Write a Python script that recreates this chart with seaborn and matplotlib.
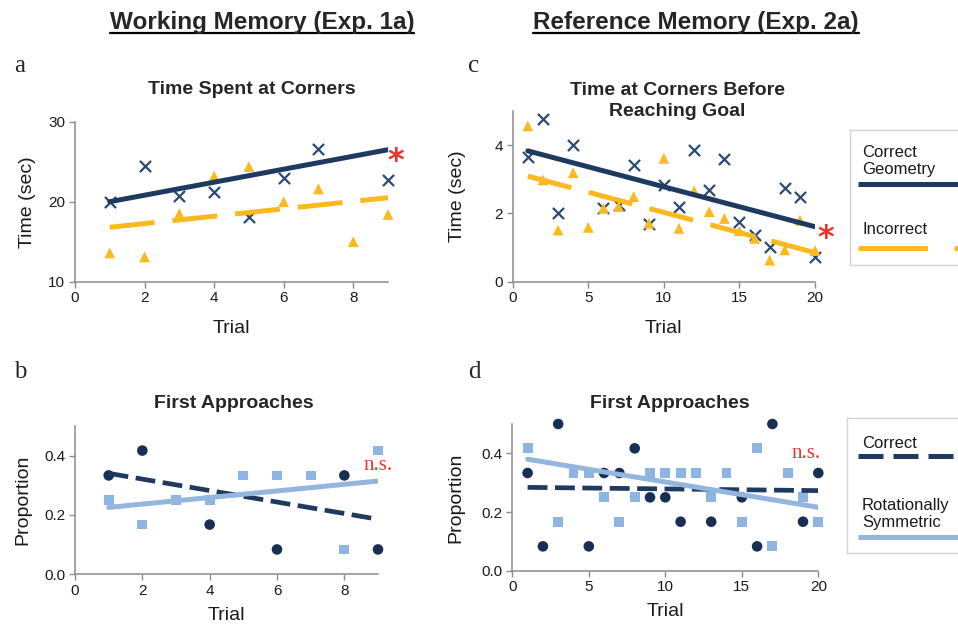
import matplotlib.pyplot as plt
import numpy as np
import seaborn as sns

# ---- data ----
# (a) working memory, time spent at corners (sec)
trials_a_correct = [1, 2, 3, 4, 5, 6, 7, 9]
time_a_correct = [20.0, 24.5, 20.7, 21.2, 18.1, 23.0, 26.6, 22.7]
trials_a_incorrect = [1, 2, 3, 4, 5, 6, 7, 8, 9]
time_a_incorrect = [13.6, 13.1, 18.5, 23.2, 24.4, 20.0, 21.6, 15.0, 18.4]
trend_a_x = [1, 9]
trend_a_correct = [20.0, 26.5]
trend_a_incorrect = [16.8, 20.5]

# (c) reference memory, time at corners before reaching goal (sec)
trials_c_correct = [1, 2, 3, 4, 6, 7, 8, 9, 10, 11, 12, 13, 14, 15, 16, 17, 18, 19, 20]
time_c_correct = [3.66, 4.75, 2.0, 4.0, 2.15, 2.24, 3.41, 1.69, 2.83, 2.2,
                  3.85, 2.68, 3.58, 1.76, 1.37, 1.02, 2.73, 2.49, 0.73]
trials_c_incorrect = list(range(1, 21))
time_c_incorrect = [4.56, 2.98, 1.51, 3.19, 1.59, 2.15, 2.2, 2.49, 1.71, 3.61,
                    1.56, 2.66, 2.05, 1.85, 1.49, 1.27, 0.63, 0.93, 1.8, 0.91]
trend_c_x = [1, 20]
trend_c_correct = [3.83, 1.61]
trend_c_incorrect = [3.09, 0.85]

# (b) working memory, first approaches (proportion)
trials_b_correct = [1, 2, 4, 6, 8, 9]
prop_b_correct = [0.333, 0.417, 0.167, 0.083, 0.333, 0.083]
trials_b_rotational = [1, 2, 3, 4, 5, 6, 7, 8, 9]
prop_b_rotational = [0.25, 0.167, 0.25, 0.25, 0.333, 0.333, 0.333, 0.083, 0.417]
trend_b_x = [1, 9]
trend_b_correct = [0.34, 0.185]
trend_b_rotational = [0.225, 0.314]

# (d) reference memory, first approaches (proportion)
trials_d_correct = [1, 2, 3, 5, 6, 7, 8, 9, 10, 11, 13, 15, 16, 17, 19, 20]
prop_d_correct = [0.333, 0.083, 0.5, 0.083, 0.333, 0.333, 0.417, 0.25, 0.25,
                  0.167, 0.167, 0.25, 0.083, 0.5, 0.167, 0.333]
trials_d_rotational = [1, 3, 4, 5, 6, 7, 8, 9, 10, 11, 12, 13, 14, 15, 16, 17, 18, 19, 20]
prop_d_rotational = [0.417, 0.167, 0.333, 0.333, 0.25, 0.167, 0.25, 0.333, 0.333,
                     0.333, 0.333, 0.25, 0.333, 0.167, 0.417, 0.083, 0.333, 0.25, 0.167]
trend_d_x = [1, 20]
trend_d_correct = [0.284, 0.273]
trend_d_rotational = [0.38, 0.216]

NAVY = "#1f3a5f"
NAVY_PT = "#2b4a73"
DOT = "#172f55"
GOLD = "#f9b91f"
LIGHT = "#8eb4e3"
LIGHT_LINE = "#94b6de"
RED = "#e8362c"
GREY = "#8c8c8c"

W, H = 958, 628

sns.set_theme(style="white")
plt.rcParams["font.family"] = ["Liberation Sans", "DejaVu Sans"]

fig = plt.figure(figsize=(W / 100, H / 100), dpi=100)


def px(x, y):
    return x / W, 1 - y / H


def box(left, top, right, bottom):
    return [left / W, 1 - bottom / H, (right - left) / W, (bottom - top) / H]


def style_axis(ax, xlim, ylim, xticks, yticks, yfmt, ylabel):
    ax.set_xlim(*xlim)
    ax.set_ylim(*ylim)
    ax.set_xticks(xticks)
    ax.set_yticks(yticks)
    ax.set_yticklabels([yfmt.format(v) for v in yticks])
    sns.despine(ax=ax)
    for s in ("left", "bottom"):
        ax.spines[s].set_color(GREY)
        ax.spines[s].set_linewidth(1.1)
    ax.tick_params(direction="out", length=4, width=1.0, color=GREY,
                   labelsize=11, labelcolor="#1a1a1a", pad=3,
                   bottom=True, left=True)
    ax.set_xlabel("Trial", fontsize=14, color="#1a1a1a", labelpad=2)
    ax.set_ylabel(ylabel, fontsize=14, color="#1a1a1a", labelpad=6)


def time_panel(ax, tx_c, y_c, tx_i, y_i, tr_x, tr_c, tr_i):
    sns.scatterplot(x=tx_c, y=y_c, marker="x", s=64, color=NAVY_PT,
                    linewidth=1.6, ax=ax, zorder=3, clip_on=False)
    sns.scatterplot(x=tx_i, y=y_i, marker="^", s=60, color=GOLD,
                    edgecolor="none", ax=ax, zorder=3, clip_on=False)
    sns.lineplot(x=tr_x, y=tr_i, color=GOLD, linewidth=3.6,
                 linestyle=(0, (9, 3.6)), ax=ax, zorder=4)
    sns.lineplot(x=tr_x, y=tr_c, color=NAVY, linewidth=3.6, ax=ax, zorder=5)


def approach_panel(ax, tx_c, y_c, tx_r, y_r, tr_x, tr_c, tr_r):
    sns.scatterplot(x=tx_c, y=y_c, marker="o", s=58, color=DOT,
                    edgecolor="none", ax=ax, zorder=3, clip_on=False)
    sns.scatterplot(x=tx_r, y=y_r, marker="s", s=50, color=LIGHT,
                    edgecolor="none", ax=ax, zorder=3, clip_on=False)
    sns.lineplot(x=tr_x, y=tr_c, color=NAVY, linewidth=3.4,
                 linestyle=(0, (4.2, 1.6)), ax=ax, zorder=4)
    sns.lineplot(x=tr_x, y=tr_r, color=LIGHT_LINE, linewidth=3.6, ax=ax, zorder=5)


# panel a
ax_a = fig.add_axes(box(75, 121.7, 388, 281.7))
time_panel(ax_a, trials_a_correct, time_a_correct, trials_a_incorrect,
           time_a_incorrect, trend_a_x, trend_a_correct, trend_a_incorrect)
style_axis(ax_a, (0, 9), (10, 30), [0, 2, 4, 6, 8], [10, 20, 30], "{:.0f}", "Time (sec)")

# panel c
ax_c = fig.add_axes(box(512.7, 110.9, 815, 281.7))
time_panel(ax_c, trials_c_correct, time_c_correct, trials_c_incorrect,
           time_c_incorrect, trend_c_x, trend_c_correct, trend_c_incorrect)
style_axis(ax_c, (0, 20), (0, 5), [0, 5, 10, 15, 20], [0, 2, 4], "{:.0f}", "Time (sec)")

# panel b
ax_b = fig.add_axes(box(75, 426, 378, 574))
approach_panel(ax_b, trials_b_correct, prop_b_correct, trials_b_rotational,
               prop_b_rotational, trend_b_x, trend_b_correct, trend_b_rotational)
style_axis(ax_b, (0, 9), (0, 0.5), [0, 2, 4, 6, 8], [0, 0.2, 0.4], "{:.1f}", "Proportion")

# panel d
ax_d = fig.add_axes(box(512.3, 424, 818.3, 570.7))
approach_panel(ax_d, trials_d_correct, prop_d_correct, trials_d_rotational,
               prop_d_rotational, trend_d_x, trend_d_correct, trend_d_rotational)
style_axis(ax_d, (0, 20), (0, 0.5), [0, 5, 10, 15, 20], [0, 0.2, 0.4], "{:.1f}", "Proportion")

ax_a.xaxis.set_label_coords(0.5, -0.24)
ax_c.xaxis.set_label_coords(0.5, -0.225)
ax_b.xaxis.set_label_coords(0.5, -0.22)
ax_d.xaxis.set_label_coords(0.5, -0.22)
ax_a.yaxis.set_label_coords(-0.125, 0.5)
ax_b.yaxis.set_label_coords(-0.145, 0.5)
ax_c.yaxis.set_label_coords(-0.155, 0.5)
ax_d.yaxis.set_label_coords(-0.155, 0.5)

# significance marks
ax_a.text(9.23, 25.0, "*", color=RED, fontsize=23, fontweight="bold", ha="center",
          va="center", family="DejaVu Sans", clip_on=False)
ax_c.text(20.7, 1.25, "*", color=RED, fontsize=23, fontweight="bold", ha="center",
          va="center", family="DejaVu Sans", clip_on=False)
ax_b.text(9.0, 0.368, "n.s.", color=RED, fontsize=15, ha="center", va="center",
          family="Liberation Serif", clip_on=False)
ax_d.text(19.2, 0.401, "n.s.", color=RED, fontsize=15, ha="center", va="center",
          family="Liberation Serif", clip_on=False)

# subplot titles
fig.text(*px(252, 89), "Time Spent at Corners", fontsize=14, fontweight="bold",
         ha="center", va="center")
fig.text(*px(677, 101), "Time at Corners Before\nReaching Goal", fontsize=14,
         fontweight="bold", ha="center", va="center", linespacing=1.3)
fig.text(*px(234, 404), "First Approaches", fontsize=14, fontweight="bold",
         ha="center", va="center")
fig.text(*px(670, 404), "First Approaches", fontsize=14, fontweight="bold",
         ha="center", va="center")

# panel letters
for letter, (lx, ly) in {"a": (14, 72), "c": (468, 72), "b": (14, 378), "d": (468, 378)}.items():
    fig.text(*px(lx, ly), letter, fontsize=18, family="Liberation Serif",
             ha="left", va="baseline")

# column headers, underlined
fig.canvas.draw()
renderer = fig.canvas.get_renderer()
for label, cx in [("Working Memory (Exp. 1a)", 262), ("Reference Memory (Exp. 2a)", 696)]:
    t = fig.text(*px(cx, 29), label, fontsize=17.5, fontweight="bold",
                 ha="center", va="baseline")
    bb = t.get_window_extent(renderer)
    fig.add_artist(plt.Line2D([bb.x0 / W, bb.x1 / W], [1 - 32.5 / H] * 2,
                              transform=fig.transFigure, color="black", linewidth=1.6))


# legends drawn as boxed panels
def legend_panel(rect, entries):
    lg = fig.add_axes(box(*rect))
    lg.set_xlim(rect[0], rect[2])
    lg.set_ylim(rect[3], rect[1])
    lg.set_xticks([])
    lg.set_yticks([])
    for s in lg.spines.values():
        s.set_color("#d4d4d4")
        s.set_linewidth(1.0)
    for text, ty, ly, color, ls in entries:
        lg.text(862, ty, text, fontsize=12, ha="left", va="center",
                color="#1a1a1a", linespacing=1.1)
        lg.plot([858, 970], [ly, ly], color=color, linewidth=3.6, linestyle=ls,
                solid_capstyle="butt", dash_capstyle="butt", clip_on=True)
    return lg


legend_panel((850, 130, 965, 265), [
    ("Correct\nGeometry", 161, 184, NAVY, "-"),
    ("Incorrect", 229, 248, GOLD, (0, (13.9, 5.3))),
])
legend_panel((847, 418, 965, 553), [
    ("Correct", 444, 456, NAVY, (0, (5, 2))),
    ("Rotationally\nSymmetric", 514, 537, LIGHT_LINE, "-"),
])

fig.savefig("out.png", dpi=100, facecolor="white")
